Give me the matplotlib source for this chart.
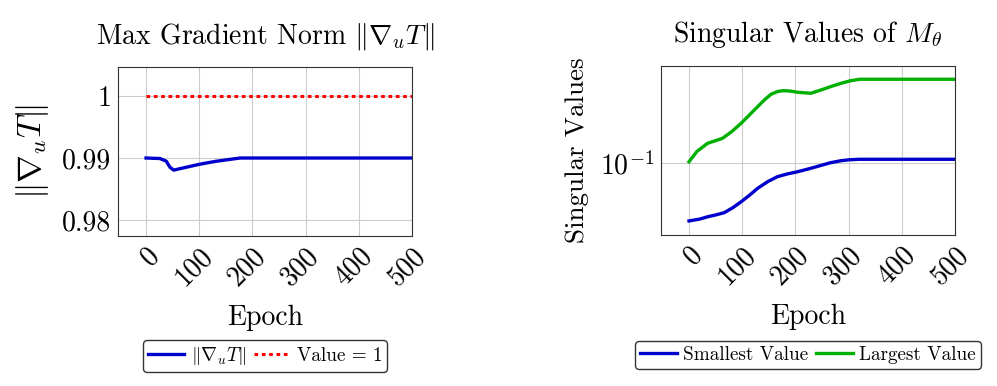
import matplotlib
matplotlib.use('Agg')
import matplotlib.pyplot as plt
import numpy as np

plt.rcParams['font.family'] = 'cmr10'
plt.rcParams['mathtext.fontset'] = 'cm'
plt.rcParams['axes.formatter.use_mathtext'] = True
plt.rcParams['axes.unicode_minus'] = False

# left panel: max gradient norm
epochs_grad = [0, 15, 26, 38, 45, 52, 70, 101, 130, 155, 177, 200, 250, 300, 400, 500]
grad_norm = [0.99, 0.98995, 0.98992, 0.9895, 0.9885, 0.98805, 0.9884, 0.9890, 0.98945, 0.98975, 0.99, 0.99, 0.99, 0.99, 0.99, 0.99]
epochs_ref = [0, 500]
ref_value = [1, 1]

# right panel: singular values of M_theta
epochs_sv = [0, 20, 35, 50, 66, 82, 98, 114, 129, 148, 166, 185, 204, 229, 250, 266, 285, 300, 320, 400, 500]
smallest = [0.0585, 0.0595, 0.0608, 0.0618, 0.0631, 0.0660, 0.0698, 0.0742, 0.0790, 0.0840, 0.0879, 0.0902, 0.0920, 0.0950, 0.0978, 0.1000, 0.1018, 0.1027, 0.1032, 0.1032, 0.1032]
epochs_lv = [0, 15, 35, 50, 63, 80, 98, 114, 129, 142, 154, 166, 176, 190, 204, 229, 250, 266, 285, 304, 321, 400, 500]
largest = [0.1009, 0.1110, 0.1196, 0.1225, 0.1252, 0.1330, 0.1438, 0.1555, 0.1675, 0.1785, 0.1877, 0.1925, 0.1941, 0.1935, 0.1913, 0.1895, 0.1960, 0.2014, 0.2075, 0.2128, 0.2156, 0.2156, 0.2156]

xticks = [0, 100, 200, 300, 400, 500]
blue = '#0000cc'
green = '#00b000'
red = '#ff0000'

fig = plt.figure(figsize=(9.97, 3.86), dpi=100)
ax1 = fig.add_axes([0.1184, 0.3886, 0.2949, 0.4378])
ax2 = fig.add_axes([0.6630, 0.3912, 0.2949, 0.4378])

for ax in (ax1, ax2):
    ax.grid(True, color='#cccccc', linewidth=0.8)
    ax.set_axisbelow(True)
    for s in ax.spines.values():
        s.set_color('#333333')
        s.set_linewidth(0.8)
    ax.tick_params(length=0, labelsize=20, pad=5)
    ax.set_xlim(-52.6, 500)
    ax.set_xticks(xticks)
    ax.set_xticklabels([str(t) for t in xticks], rotation=45, ha='right', va='top',
                       rotation_mode='anchor')
    ax.set_xlabel('Epoch', fontsize=20, labelpad=10)

ax1.plot(epochs_grad, grad_norm, color=blue, lw=2.4, label=r'$\|\nabla_u T\|$')
ax1.plot(epochs_ref, ref_value, color=red, lw=2.2, linestyle=(0, (1.2, 1.2)),
         label='Value = 1')
ax1.set_ylim(0.97742, 1.00468)
ax1.set_yticks([0.98, 0.99, 1.0])
ax1.set_yticklabels(['0.98', '0.99', '1'])
ax1.set_title(r'Max Gradient Norm $\|\nabla_u T\|$', fontsize=20, pad=17)
ax1.set_ylabel(r'$\|\nabla_u T\|$', fontsize=24, labelpad=8)
ax1.legend(loc='center', bbox_to_anchor=(0.5, -0.71), ncol=2, fontsize=13.8,
           frameon=True, fancybox=True, edgecolor='#333333', framealpha=1,
           handlelength=1.9, columnspacing=0.4, handletextpad=0.35,
           borderpad=0.25, borderaxespad=0)

ax2.plot(epochs_sv, smallest, color=blue, lw=2.4, label='Smallest Value')
ax2.plot(epochs_lv, largest, color=green, lw=2.4, label='Largest Value')
ax2.set_yscale('log')
ax2.set_ylim(0.0514, 0.2436)
ax2.set_yticks([0.1])
ax2.yaxis.set_minor_locator(matplotlib.ticker.NullLocator())
ax2.set_title(r'Singular Values of $M_\theta$', fontsize=20, pad=17)
ax2.set_ylabel('Singular Values', fontsize=19.5, labelpad=8)
ax2.legend(loc='center', bbox_to_anchor=(0.5, -0.71), ncol=2, fontsize=13.8,
           frameon=True, fancybox=True, edgecolor='#333333', framealpha=1,
           handlelength=1.9, columnspacing=0.4, handletextpad=0.35,
           borderpad=0.25, borderaxespad=0)

fig.savefig('out.png', dpi=100)
